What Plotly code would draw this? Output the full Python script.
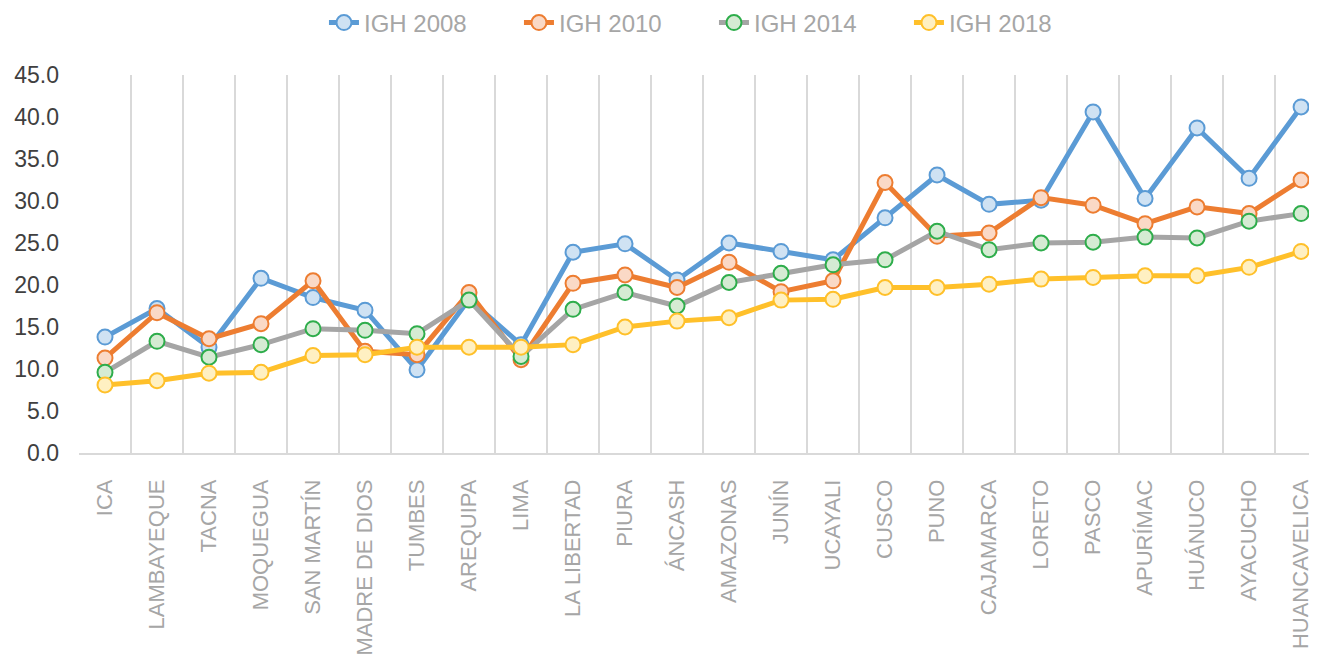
import plotly.graph_objects as go

regions = ["ICA", "LAMBAYEQUE", "TACNA", "MOQUEGUA", "SAN MARTÍN", "MADRE DE DIOS",
           "TUMBES", "AREQUIPA", "LIMA", "LA LIBERTAD", "PIURA", "ÁNCASH", "AMAZONAS",
           "JUNÍN", "UCAYALI", "CUSCO", "PUNO", "CAJAMARCA", "LORETO", "PASCO",
           "APURÍMAC", "HUÁNUCO", "AYACUCHO", "HUANCAVELICA"]

igh_2008 = [13.8, 17.2, 12.6, 20.8, 18.5, 17.0, 9.9, 18.3, 12.9, 23.9, 24.9, 20.6,
            25.0, 24.0, 23.0, 28.0, 33.1, 29.6, 30.1, 40.6, 30.3, 38.7, 32.7, 41.2]
igh_2010 = [11.3, 16.7, 13.6, 15.4, 20.5, 12.1, 11.7, 19.1, 11.1, 20.2, 21.2, 19.7,
            22.7, 19.2, 20.5, 32.2, 25.8, 26.2, 30.4, 29.5, 27.3, 29.3, 28.5, 32.5]
igh_2014 = [9.6, 13.3, 11.4, 12.9, 14.8, 14.6, 14.2, 18.2, 11.5, 17.1, 19.1, 17.5,
            20.3, 21.4, 22.4, 23.0, 26.4, 24.2, 25.0, 25.1, 25.7, 25.6, 27.6, 28.5]
igh_2018 = [8.1, 8.6, 9.5, 9.6, 11.6, 11.7, 12.6, 12.6, 12.6, 12.9, 15.0, 15.7,
            16.1, 18.2, 18.3, 19.7, 19.7, 20.1, 20.7, 20.9, 21.1, 21.1, 22.1, 24.0]

series = [
    ("IGH 2008", igh_2008, "#5B9BD5", "#CFE2F3", "#5B9BD5"),
    ("IGH 2010", igh_2010, "#ED7D31", "#FAD9C6", "#ED7D31"),
    ("IGH 2014", igh_2014, "#A5A5A5", "#D5EBD3", "#2EAD4B"),
    ("IGH 2018", igh_2018, "#FFC02A", "#FFF0C2", "#FFC02A"),
]

font_family = "Liberation Sans, Arial, sans-serif"

fig = go.Figure()
for name, vals, lc, fc, mc in series:
    fig.add_trace(go.Scatter(
        x=regions, y=vals, name=name, mode="lines+markers",
        line=dict(color=lc, width=5),
        marker=dict(size=15, color=fc, line=dict(color=mc, width=2)),
    ))

fig.update_layout(
    width=1317, height=671,
    margin=dict(l=71, r=0, t=67, b=226),
    paper_bgcolor="white", plot_bgcolor="white",
    font=dict(family=font_family),
    showlegend=True,
    legend=dict(orientation="h", x=0.5096, xanchor="center",
                yref="container", y=1 - 15 / 671, yanchor="middle",
                font=dict(size=24, color="#A6A6A6"),
                entrywidth=150, entrywidthmode="pixels"),
    xaxis=dict(
        type="category", range=[-0.5, 23.46], automargin=False,
        tickson="boundaries", showgrid=True, gridcolor="#D9D9D9", gridwidth=1.5,
        showline=True, linecolor="#D9D9D9", linewidth=1.5,
        ticks="", tickangle=-90, ticklabelstandoff=16,
        tickfont=dict(size=22, color="#A6A6A6"),
    ),
    yaxis=dict(
        range=[0, 45], dtick=5, tickformat=".1f", showgrid=False, automargin=False,
        zeroline=False, showline=False, ticks="",
        tickfont=dict(size=23, color="#404040"), ticklabelstandoff=19,
    ),
)

fig.write_html("out.html")
